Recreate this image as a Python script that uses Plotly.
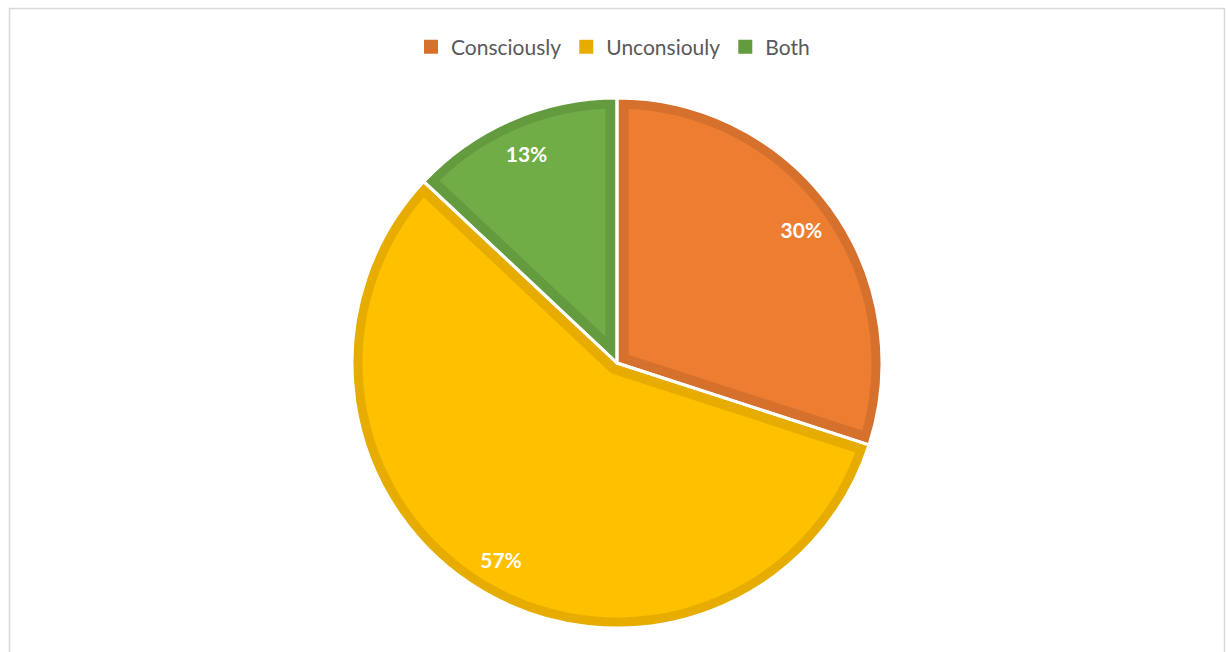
import math
import plotly.graph_objects as go

# Survey answer shares (percent)
categories = ["Consciously", "Unconsiouly", "Both"]
shares = [30, 57, 13]

# Slice fills and their darker rims
fill_colors = ["#ED7D31", "#FFC000", "#70AD47"]
edge_colors = ["#D6712D", "#E6AD00", "#639B3E"]
CLEAR = "rgba(0,0,0,0)"

W, H = 1226, 652
CX, CY = 617, 363      # pie centre in pixels
R = 265                # outer radius in pixels
RING = 10.5            # width of the darker rim on the outer arc
INSET = 11.5           # rim width along the radial edges (incl. half the white gap)
FONT = "Lato"


def dom(half):
    """Square domain of half-size `half` px centred on the pie centre."""
    return dict(x=[(CX - half) / W, (CX + half) / W],
                y=[(H - CY - half) / H, (H - CY + half) / H])


common = dict(labels=categories, values=shares, sort=False,
              direction="clockwise", rotation=0)

fig = go.Figure()

# darker base: every slice filled with its rim colour (also feeds the legend)
fig.add_trace(go.Pie(**common, domain=dom(R), textinfo="none",
                     marker=dict(colors=edge_colors,
                                 line=dict(color=edge_colors, width=2)),
                     hoverinfo="label+percent", showlegend=True))

# lighter body of each slice: the slice pulled along its bisector so the
# radial edges sit INSET px inside the dark base
total = sum(shares)
for i, v in enumerate(shares):
    half_angle = math.pi * v / total
    d = INSET / math.sin(half_angle)
    inner = R - RING
    rho = math.sqrt(inner ** 2 + d ** 2 - 2 * inner * d * math.cos(half_angle)) + 1
    colors = [fill_colors[j] if j == i else CLEAR for j in range(len(shares))]
    pulls = [d / rho if j == i else 0 for j in range(len(shares))]
    fig.add_trace(go.Pie(**common, domain=dom(rho + d), pull=pulls,
                         textinfo="none", hoverinfo="skip", showlegend=False,
                         marker=dict(colors=colors, line=dict(width=0))))

# darker rim around the outer arc
fig.add_trace(go.Pie(**common, domain=dom(R), hole=(R - RING) / R,
                     textinfo="none", hoverinfo="skip", showlegend=False,
                     marker=dict(colors=edge_colors, line=dict(width=0))))

# white band just outside the pie
fig.add_trace(go.Pie(**common, domain=dom(R + 20), hole=R / (R + 20),
                     textinfo="none", hoverinfo="skip", showlegend=False,
                     marker=dict(colors=["white"] * len(shares), line=dict(width=0))))

# white separators between slices
fig.add_trace(go.Pie(**common, domain=dom(R), textinfo="none",
                     hoverinfo="skip", showlegend=False,
                     marker=dict(colors=[CLEAR] * len(shares),
                                 line=dict(color="white", width=3))))

# percentage labels near the outer edge
fig.add_trace(go.Pie(**common, domain=dom(R), hole=0.72,
                     textinfo="percent", textposition="inside",
                     insidetextorientation="horizontal",
                     textfont=dict(family=FONT, size=21, color="white", weight="bold"),
                     hoverinfo="skip", showlegend=False,
                     marker=dict(colors=[CLEAR] * len(shares), line=dict(width=0))))

# chart frame
fig.add_shape(type="rect", xref="paper", yref="paper",
              x0=9.5 / W, x1=1224.5 / W, y0=-0.05, y1=(H - 8.5) / H,
              line=dict(color="#D9D9D9", width=1.5), fillcolor=CLEAR)

fig.update_layout(
    width=W, height=H,
    margin=dict(l=0, r=0, t=0, b=0),
    paper_bgcolor="white", plot_bgcolor="white",
    font=dict(family=FONT, color="#595959"),
    legend=dict(orientation="h", x=0.5, xanchor="center",
                y=(H - 47) / H, yanchor="middle",
                font=dict(family=FONT, size=21, color="#595959"),
                bgcolor=CLEAR),
)

fig.write_html("out.html")
